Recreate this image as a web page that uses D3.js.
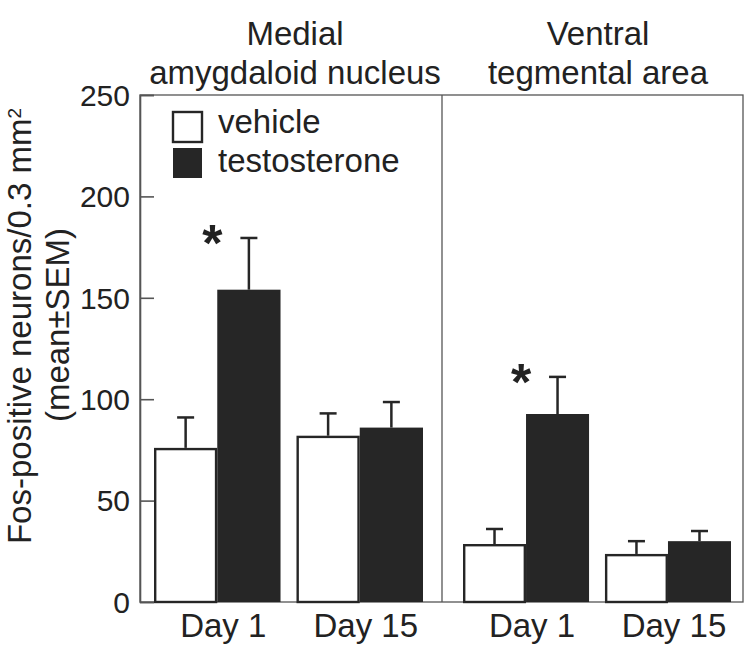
<!DOCTYPE html>
<html><head><meta charset="utf-8">
<script src="https://cdn.jsdelivr.net/npm/d3@7"></script>
<style>body{margin:0;background:#fff}svg{display:block}text{font-family:"Liberation Sans",Arial,sans-serif;fill:#222}</style>
</head><body>
<svg id="c" width="750" height="654"></svg>
<script>
const regions = ["Medial amygdaloid nucleus", "Ventral tegmental area"];
const regionLines = [["Medial","amygdaloid nucleus"],["Ventral","tegmental area"]];
const days = ["Day 1", "Day 15"];
const series = ["vehicle", "testosterone"];
// means [region][day]
const vehicleMean = [[76, 82], [28.6, 23.7]];
const vehicleSEM  = [[15, 11], [7.4, 6.3]];
const testoMean   = [[154, 86], [92.7, 30]];
const testoSEM    = [[25.5, 12.6], [18.3, 5]];
const significant = [[true, false], [true, false]];
const yTicks = [0, 50, 100, 150, 200, 250];

const svg = d3.select("#c");
const plot = {left: 140, right: 743, top: 95, bottom: 602, divider: 442};
const y = d3.scaleLinear().domain([0, 250]).range([plot.bottom, plot.top]);
const panelRanges = [[154, 423], [463, 731]];
const titleX = [295, 598];
const colors = {vehicle: "#fff", testosterone: "#262626"};
const axisCol = "#555";
const FS = 33;

// frame
svg.append("rect").attr("x", plot.left).attr("y", plot.top)
  .attr("width", plot.right - plot.left).attr("height", plot.bottom - plot.top)
  .attr("fill", "none").attr("stroke", axisCol).attr("stroke-width", 1.3);
svg.append("line").attr("x1", plot.divider).attr("x2", plot.divider)
  .attr("y1", plot.top).attr("y2", plot.bottom).attr("stroke", axisCol).attr("stroke-width", 1.3);

// y axis
const yAxis = d3.axisLeft(y).tickValues(yTicks).tickSize(-14).tickPadding(10);
const ga = svg.append("g").attr("transform", `translate(${plot.left},0)`).call(yAxis);
ga.select(".domain").attr("stroke", axisCol).attr("stroke-width", 1.6);
ga.selectAll(".tick line").attr("stroke", axisCol).attr("stroke-width", 1.6);
ga.selectAll(".tick text").attr("font-size", 30).attr("fill", "#222")
  .style("font-family", '"Liberation Sans",Arial,sans-serif').attr("dy", "0.34em");

// y label
const yl = svg.append("text").attr("transform", "translate(31,326) rotate(-90)")
  .attr("text-anchor", "middle").attr("font-size", FS);
yl.append("tspan").text("Fos-positive neurons/0.3 mm");
yl.append("tspan").attr("font-size", 19).attr("dy", -10).text("2");
svg.append("text").attr("transform", "translate(69,325) rotate(-90)")
  .attr("text-anchor", "middle").attr("font-size", FS).text("(mean±SEM)");

regions.forEach((reg, ri) => {
  const x0 = d3.scaleBand().domain(days).range(panelRanges[ri]).paddingInner(0.112);
  const x1 = d3.scaleBand().domain(series).range([0, x0.bandwidth()]);
  regionLines[ri].forEach((ln, li) => {
    svg.append("text").attr("x", titleX[ri]).attr("y", 45 + li * 39)
      .attr("text-anchor", "middle").attr("font-size", FS).text(ln);
  });
  days.forEach((day, di) => {
    const gx = x0(day);
    const data = [
      {s: "vehicle", m: vehicleMean[ri][di], e: vehicleSEM[ri][di]},
      {s: "testosterone", m: testoMean[ri][di], e: testoSEM[ri][di]}
    ];
    data.forEach(d => {
      const bx = gx + x1(d.s), bw = x1.bandwidth();
      const bcx = bx + bw / 2;
      svg.append("line").attr("x1", bcx).attr("x2", bcx)
        .attr("y1", y(d.m)).attr("y2", y(d.m + d.e)).attr("stroke", "#262626").attr("stroke-width", 2.5);
      svg.append("line").attr("x1", bcx - 8.5).attr("x2", bcx + 8.5)
        .attr("y1", y(d.m + d.e)).attr("y2", y(d.m + d.e)).attr("stroke", "#262626").attr("stroke-width", 2.5);
      if (d.s === "vehicle") {
        svg.append("rect").attr("x", bx + 1.2).attr("y", y(d.m) + 1.2)
          .attr("width", bw - 2.4).attr("height", y(0) - y(d.m) - 1.2)
          .attr("fill", "#fff").attr("stroke", "#262626").attr("stroke-width", 2.4);
      } else {
        svg.append("rect").attr("x", bx).attr("y", y(d.m))
          .attr("width", bw).attr("height", y(0) - y(d.m)).attr("fill", "#262626");
      }
    });
    if (significant[ri][di]) {
      const top = testoMean[ri][di] + testoSEM[ri][di];
      svg.append("text").attr("x", gx + x1("testosterone") - 5).attr("y", y(top) + 23)
        .attr("text-anchor", "middle").attr("font-size", 52).attr("font-weight", "bold").text("*");
    }
    svg.append("text").attr("x", gx + x0.bandwidth() / 2 + 6).attr("y", 637)
      .attr("text-anchor", "middle").attr("font-size", FS).text(day);
  });
});

// legend
const lg = svg.append("g");
series.forEach((s, i) => {
  const yy = 111 + i * 36;
  lg.append("rect").attr("x", 173).attr("y", yy + 1)
    .attr("width", 29).attr("height", 30)
    .attr("fill", colors[s]).attr("stroke", "#262626").attr("stroke-width", s === "vehicle" ? 2.4 : 0);
  lg.append("text").attr("x", 218).attr("y", 133 + i * 39).attr("font-size", FS).text(s);
});
</script>
</body></html>
